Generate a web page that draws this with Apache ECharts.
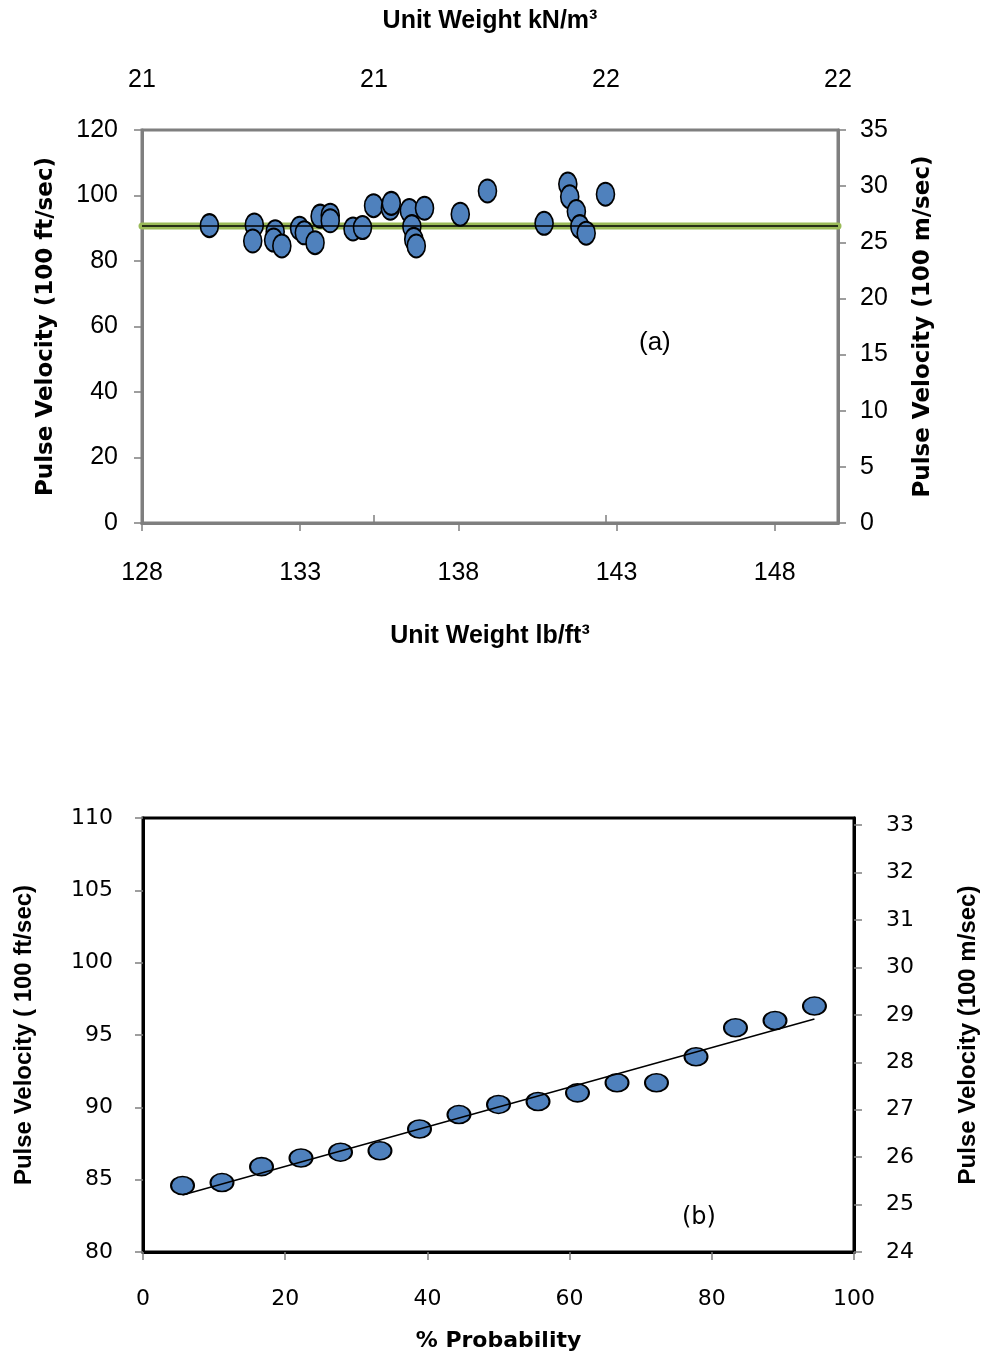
<!DOCTYPE html>
<html>
<head>
<meta charset="utf-8">
<script src="https://cdn.jsdelivr.net/npm/echarts@6/dist/echarts.min.js"></script>
<style>
  html, body { margin: 0; padding: 0; background: #fff; }
  #chart { width: 988px; height: 1357px; }
</style>
</head>
<body>
<div id="chart"></div>
<script>
// (a) unit weight vs pulse velocity
const unitWeightA = [130.13, 131.55, 131.50, 132.21, 132.16, 132.42, 132.98, 133.13, 133.47, 133.63,
  133.95, 133.95, 134.67, 134.97, 135.32, 135.85, 135.88, 136.45, 136.53, 136.59,
  136.67, 136.93, 138.06, 138.92, 140.71, 141.46, 141.52, 141.73, 141.84, 142.04, 142.65];
const pulseVelA = [90.8, 91.0, 86.1, 88.9, 86.4, 84.6, 90.0, 88.6, 85.6, 93.7,
  94.0, 92.3, 89.8, 90.2, 96.9, 96.1, 97.6, 95.4, 90.5, 86.6,
  84.6, 96.1, 94.3, 101.4, 91.5, 103.5, 99.6, 95.1, 90.5, 88.5, 100.4];
const meanLineX = [128, 150];
const meanLineY = 90.7;
const kNTickLabels = ['21', '21', '22', '22'];

// (b) probability plot
const probability = [5.56, 11.11, 16.67, 22.22, 27.78, 33.33, 38.89, 44.44, 50.0,
  55.56, 61.11, 66.67, 72.22, 77.78, 83.33, 88.89, 94.44];
const pulseVelB = [84.6, 84.8, 85.9, 86.5, 86.9, 87.0, 88.5, 89.5, 90.2,
  90.4, 91.0, 91.7, 91.7, 93.5, 95.5, 96.0, 97.0];
const trendX = [5.56, 94.44];
const trendY = [83.94, 96.10];

const NARROW = '"Liberation Sans", Arial, sans-serif';
const WIDE = '"DejaVu Sans", Verdana, sans-serif';
const pointFill = '#4F81BD';

const chart = echarts.init(document.getElementById('chart'), null, { renderer: 'canvas' });

const grayLine = { show: true, lineStyle: { color: '#7f7f7f', width: 3 } };
const blackLine = { show: true, lineStyle: { color: '#000', width: 3 } };
const grayTick = { show: true, length: 8, lineStyle: { color: '#7f7f7f', width: 1.5 } };

const option = {
  animation: false,
  backgroundColor: '#fff',
  grid: [
    { left: 142, top: 130, width: 696, height: 393, show: true, borderColor: '#7f7f7f', borderWidth: 3 },
    { left: 143, top: 818, width: 712, height: 434, show: true, borderColor: '#000', borderWidth: 3 }
  ],
  xAxis: [
    {
      gridIndex: 0, type: 'value', position: 'bottom', min: 128, max: 150, interval: 5,
      name: 'Unit Weight lb/ft³', nameLocation: 'middle', nameGap: 101,
      nameTextStyle: { fontFamily: NARROW, fontWeight: 'bold', fontSize: 25, color: '#000' },
      axisLine: grayLine, axisTick: grayTick, splitLine: { show: false },
      axisLabel: { showMaxLabel: false, margin: 38, fontFamily: NARROW, fontSize: 25, color: '#000' }
    },
    {
      gridIndex: 0, type: 'value', position: 'top', min: 0, max: 3, interval: 1,
      name: 'Unit Weight kN/m³', nameLocation: 'middle', nameGap: 96,
      nameTextStyle: { fontFamily: NARROW, fontWeight: 'bold', fontSize: 25, color: '#000' },
      axisLine: grayLine, axisTick: grayTick, splitLine: { show: false },
      axisLabel: { margin: 37, fontFamily: NARROW, fontSize: 25, color: '#000',
        formatter: (v, i) => kNTickLabels[i] }
    },
    {
      gridIndex: 1, type: 'value', position: 'bottom', min: 0, max: 100, interval: 20,
      name: '% Probability', nameLocation: 'middle', nameGap: 78,
      nameTextStyle: { fontFamily: WIDE, fontWeight: 'bold', fontSize: 22, color: '#000' },
      axisLine: blackLine, axisTick: grayTick, splitLine: { show: false },
      axisLabel: { margin: 36, fontFamily: WIDE, fontSize: 22, color: '#000' }
    }
  ],
  yAxis: [
    {
      gridIndex: 0, type: 'value', position: 'left', min: 0, max: 120, interval: 20,
      name: 'Pulse Velocity (100 ft/sec)', nameLocation: 'middle', nameGap: 84, nameRotate: 90,
      nameTextStyle: { fontFamily: WIDE, fontWeight: 'bold', fontSize: 23, color: '#000' },
      axisLine: grayLine, axisTick: grayTick, splitLine: { show: false },
      axisLabel: { margin: 24, fontFamily: NARROW, fontSize: 25, color: '#000' }
    },
    {
      gridIndex: 0, type: 'value', position: 'right', min: 0, max: 35, interval: 5,
      name: 'Pulse Velocity (100 m/sec)', nameLocation: 'middle', nameGap: 74, nameRotate: 90,
      nameTextStyle: { fontFamily: WIDE, fontWeight: 'bold', fontSize: 23, color: '#000' },
      axisLine: grayLine, axisTick: grayTick, splitLine: { show: false },
      axisLabel: { margin: 22, fontFamily: NARROW, fontSize: 25, color: '#000' }
    },
    {
      gridIndex: 1, type: 'value', position: 'left', min: 80, max: 110, interval: 5,
      name: 'Pulse Velocity ( 100 ft/sec)', nameLocation: 'middle', nameGap: 107, nameRotate: 90,
      nameTextStyle: { fontFamily: NARROW, fontWeight: 'bold', fontSize: 24, color: '#000' },
      axisLine: blackLine, axisTick: grayTick, splitLine: { show: false },
      axisLabel: { margin: 30, fontFamily: WIDE, fontSize: 22, color: '#000' }
    },
    {
      gridIndex: 1, type: 'value', position: 'right', min: 24, max: 33.15, interval: 1,
      name: 'Pulse Velocity (100 m/sec)', nameLocation: 'middle', nameGap: 102, nameRotate: 90,
      nameTextStyle: { fontFamily: NARROW, fontWeight: 'bold', fontSize: 24, color: '#000' },
      axisLine: blackLine, axisTick: grayTick, splitLine: { show: false },
      axisLabel: { showMaxLabel: false, margin: 32, fontFamily: WIDE, fontSize: 22, color: '#000' }
    }
  ],
  graphic: [
    { type: 'text', left: 639, top: 330, style: { text: '(a)', fontFamily: NARROW, fontSize: 26, fill: '#000' } },
    { type: 'text', left: 682, top: 1206, style: { text: '(b)', fontFamily: WIDE, fontSize: 24, fill: '#000' } }
  ],
  series: [
    {
      type: 'line', xAxisIndex: 0, yAxisIndex: 0, z: 1, symbol: 'none', silent: true,
      data: meanLineX.map(x => [x, meanLineY]),
      lineStyle: { color: '#9BBB59', width: 7, cap: 'round' }
    },
    {
      type: 'scatter', xAxisIndex: 0, yAxisIndex: 0, z: 2,
      data: unitWeightA.map((x, i) => [x, pulseVelA[i]]),
      symbol: 'circle', symbolSize: [18, 23],
      itemStyle: { color: pointFill, borderColor: '#000', borderWidth: 1.8, opacity: 1 }
    },
    {
      type: 'line', xAxisIndex: 0, yAxisIndex: 0, z: 3, symbol: 'none', silent: true,
      data: meanLineX.map(x => [x, meanLineY]),
      lineStyle: { color: '#000', width: 1.5 }
    },
    {
      type: 'scatter', xAxisIndex: 2, yAxisIndex: 2, z: 2,
      data: probability.map((x, i) => [x, pulseVelB[i]]),
      symbol: 'circle', symbolSize: [23, 18],
      itemStyle: { color: pointFill, borderColor: '#000', borderWidth: 1.8, opacity: 1 }
    },
    {
      type: 'line', xAxisIndex: 2, yAxisIndex: 2, z: 3, symbol: 'none', silent: true,
      data: trendX.map((x, i) => [x, trendY[i]]),
      lineStyle: { color: '#000', width: 1.5 }
    }
  ]
};

chart.setOption(option);
window.addEventListener('resize', () => chart.resize());
</script>
</body>
</html>
